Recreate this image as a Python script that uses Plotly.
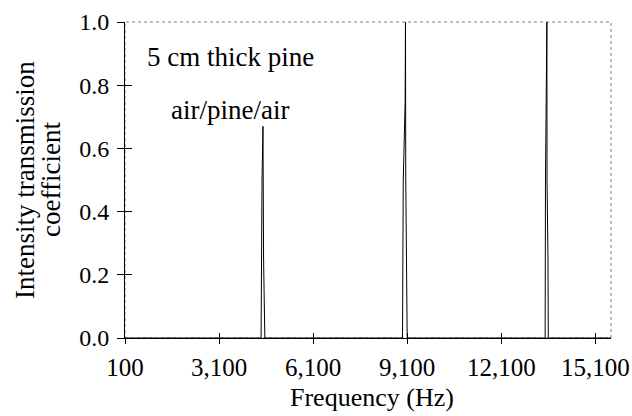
import plotly.graph_objects as go

# Frequency (Hz) sample points and intensity transmission coefficient
frequency = [100, 4440, 4470, 4500, 4520, 4560,
             8950, 8975, 9035, 9045, 9055, 9070, 9100,
             13500, 13510, 13555, 13560, 13590, 13600, 15600]
transmission = [0.0, 0.0, 0.5, 0.67, 0.25, 0.0,
                0.0, 0.5, 0.75, 1.0, 0.5, 0.25, 0.0,
                0.0, 0.5, 1.0, 0.5, 0.25, 0.0, 0.0]

x_ticks = [100, 3100, 6100, 9100, 12100, 15100]
y_ticks = [0.0, 0.2, 0.4, 0.6, 0.8, 1.0]
x_range = [100, 15600]
y_range = [0, 1]

FONT = "Liberation Serif, Times New Roman, serif"

fig = go.Figure()
fig.add_trace(go.Scatter(x=frequency, y=transmission, mode="lines",
                         line=dict(color="black", width=1), showlegend=False,
                         hoverinfo="skip"))
# invisible trace so the overlay axes (inside tick marks) are drawn
fig.add_trace(go.Scatter(x=[x_range[0]], y=[y_range[0]], xaxis="x2", yaxis="y2",
                         mode="markers", marker=dict(opacity=0), showlegend=False,
                         hoverinfo="skip"))

xcommon = dict(showgrid=False, zeroline=False, tickcolor="black",
               tickwidth=1, ticklen=5, automargin=False)
ycommon = dict(showgrid=False, zeroline=False, tickcolor="black",
               tickwidth=1, ticklen=7, automargin=False)

fig.update_layout(
    width=632, height=416,
    margin=dict(l=125, r=21, t=22, b=78),
    paper_bgcolor="white", plot_bgcolor="white",
    font=dict(family=FONT, size=24, color="black"),
    xaxis=dict(range=x_range, tickvals=x_ticks, tickformat=",d",
               ticks="outside", showline=True, linecolor="black", linewidth=1,
               tickfont=dict(size=25), ticklabelstandoff=2, **xcommon),
    yaxis=dict(range=y_range, tickvals=y_ticks, tickformat=".1f",
               ticks="outside", showline=True, linecolor="black", linewidth=1,
               tickfont=dict(size=24), ticklabelstandoff=3, **ycommon),
    xaxis2=dict(range=x_range, overlaying="x", tickvals=x_ticks,
                ticks="inside", showticklabels=False, showline=False,
                side="bottom", anchor="y2", **xcommon),
    yaxis2=dict(range=y_range, overlaying="y", tickvals=y_ticks,
                ticks="inside", showticklabels=False, showline=False,
                side="left", anchor="x2", **ycommon),
    shapes=[dict(type="rect", xref="paper", yref="paper", x0=0, y0=0, x1=1, y1=1,
                 line=dict(color="#808080", width=1, dash="dot"), layer="below")],
    annotations=[
        dict(text="5 cm thick pine", x=3450, y=0.89, xref="x", yref="y",
             showarrow=False, font=dict(size=27)),
        dict(text="air/pine/air", x=3450, y=0.72, xref="x", yref="y",
             showarrow=False, font=dict(size=27)),
        dict(text="Intensity transmission", x=0, y=0.5, xref="paper", yref="paper",
             xanchor="center", yanchor="middle", xshift=-100, textangle=-90,
             showarrow=False, font=dict(size=27)),
        dict(text="coefficient", x=0, y=0.5, xref="paper", yref="paper",
             xanchor="center", yanchor="middle", xshift=-74, textangle=-90,
             showarrow=False, font=dict(size=27)),
        dict(text="Frequency (Hz)", x=0.5, y=0, xref="paper", yref="paper",
             xanchor="center", yanchor="middle", xshift=4, yshift=-59,
             showarrow=False, font=dict(size=26)),
    ],
)

fig.write_html("out.html")
